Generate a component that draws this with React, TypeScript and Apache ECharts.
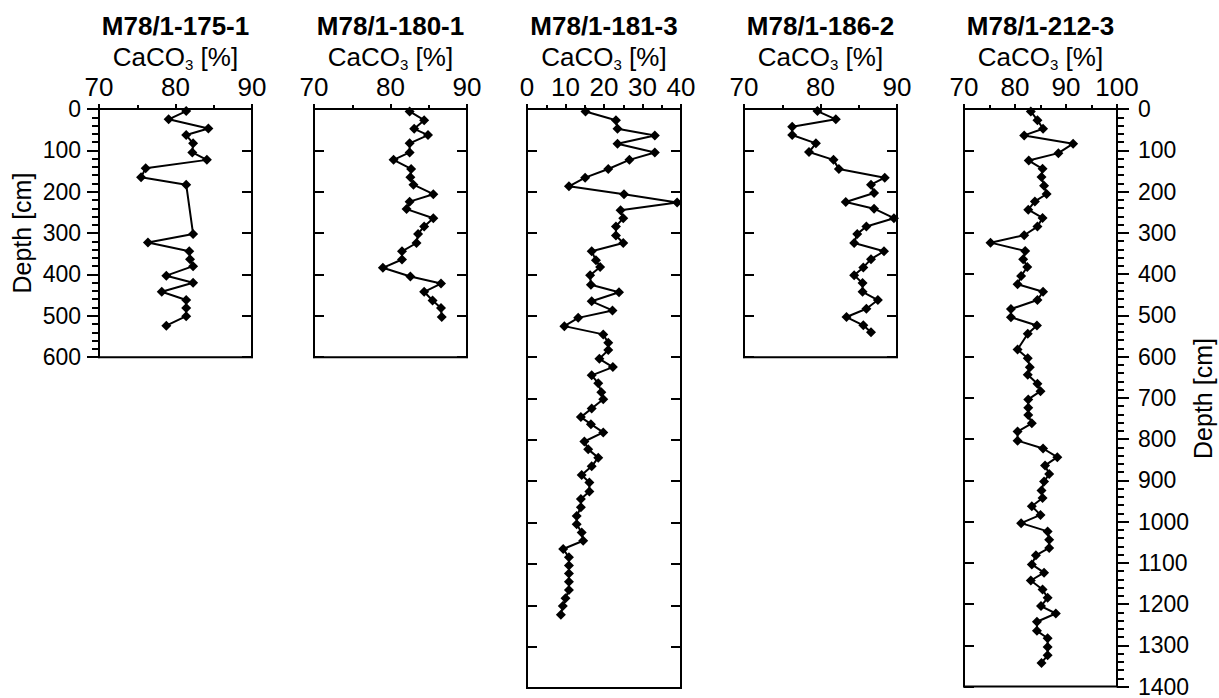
import React, { useEffect, useRef } from "react";
import * as echarts from "echarts";

// ---- data ----
const coreNames = ["M78/1-175-1", "M78/1-180-1", "M78/1-181-3", "M78/1-186-2", "M78/1-212-3"];

const depth1 = [5, 25, 47, 63, 83, 105, 123, 143, 165, 183, 302, 323, 344, 363, 380, 403, 420, 442, 462, 481, 501, 524];
const caco1 = [81.4, 79.1, 84.3, 81.4, 82.3, 82.2, 84.1, 76.1, 75.5, 81.4, 82.3, 76.4, 81.8, 81.9, 82.3, 78.8, 82.3, 78.2, 81.4, 81.4, 81.4, 78.8];

const depth2 = [6, 27, 48, 63, 83, 105, 123, 145, 165, 183, 206, 224, 242, 264, 284, 302, 324, 344, 364, 384, 405, 422, 442, 463, 481, 503];
const caco2 = [82.5, 84.4, 83.1, 84.9, 82.5, 82.5, 80.4, 82.7, 82.6, 83.0, 85.6, 82.5, 82.1, 85.6, 84.4, 83.6, 83.4, 81.5, 81.5, 79.0, 82.6, 86.6, 84.4, 85.5, 86.6, 86.7];

const depth3 = [6, 27, 48, 64, 84, 105, 123, 145, 166, 187, 206, 226, 245, 264, 284, 306, 324, 344, 366, 382, 402, 425, 443, 465, 487, 505, 525, 545, 565, 583, 604, 624, 644, 663, 685, 702, 724, 745, 762, 782, 804, 823, 843, 864, 885, 903, 925, 943, 963, 984, 1004, 1024, 1044, 1064, 1084, 1104, 1123, 1143, 1163, 1183, 1202, 1223];
const caco3 = [15.2, 23.1, 23.5, 33.2, 23.5, 33.2, 26.6, 21.1, 15.1, 10.9, 25.2, 39.0, 24.3, 25.0, 23.1, 23.1, 25.0, 16.8, 17.9, 19.0, 16.4, 16.6, 23.9, 16.8, 22.2, 13.3, 9.7, 19.8, 21.1, 21.1, 18.8, 22.3, 16.8, 18.5, 19.3, 19.8, 16.8, 14.0, 16.6, 19.8, 14.9, 15.9, 18.5, 16.8, 14.2, 16.2, 16.2, 14.0, 14.0, 12.9, 12.9, 14.2, 14.6, 9.4, 10.9, 10.9, 10.9, 10.9, 10.9, 10.0, 9.3, 8.8];

const depth4 = [5, 25, 43, 63, 83, 104, 123, 145, 166, 183, 203, 225, 241, 264, 284, 302, 324, 344, 363, 383, 402, 421, 442, 462, 483, 503, 523, 540];
const caco4 = [79.6, 82.0, 76.3, 76.3, 79.4, 78.5, 81.7, 82.4, 88.4, 86.6, 87.0, 83.3, 87.0, 89.6, 86.0, 84.8, 84.4, 88.3, 86.6, 85.6, 84.4, 85.5, 85.5, 87.5, 86.0, 83.4, 85.6, 86.6];

const depth5 = [6, 27, 48, 64, 84, 107, 125, 145, 165, 186, 206, 224, 244, 264, 285, 306, 324, 344, 364, 383, 405, 425, 443, 463, 485, 505, 525, 545, 583, 604, 626, 644, 666, 684, 704, 724, 742, 762, 782, 804, 823, 844, 864, 885, 903, 925, 943, 963, 984, 1004, 1024, 1044, 1064, 1082, 1104, 1124, 1143, 1165, 1185, 1205, 1223, 1243, 1265, 1283, 1304, 1324, 1343];
const caco5 = [83.1, 84.4, 85.5, 81.8, 91.4, 88.5, 82.7, 85.4, 85.2, 85.7, 86.2, 83.9, 82.6, 85.4, 84.4, 81.8, 75.2, 82.0, 81.6, 82.4, 81.2, 80.5, 85.5, 84.4, 79.2, 79.2, 84.3, 82.5, 80.5, 82.5, 82.9, 82.5, 84.4, 85.0, 82.6, 82.6, 82.6, 83.3, 80.5, 80.5, 85.5, 88.3, 85.9, 86.7, 85.7, 85.2, 85.4, 83.3, 85.0, 81.2, 86.4, 86.7, 86.7, 84.1, 83.3, 85.7, 83.1, 85.4, 86.4, 85.1, 88.0, 84.3, 84.3, 86.4, 86.4, 86.4, 85.2];

const xMins = [70, 70, 0, 70, 70];
const xMaxs = [90, 90, 40, 90, 100];
const depthMaxs = [600, 600, 1400, 600, 1400];
const depths = [depth1, depth2, depth3, depth4, depth5];
const values = [caco1, caco2, caco3, caco4, caco5];
const depthTitle = "Depth [cm]";

// ---- layout ----
const FONT = "Liberation Sans, Arial, Helvetica, sans-serif";
const TOP = 109;
const PX_PER_CM = 579 / 1400;
const lefts = [99, 314, 527, 744, 964];
const widths = [153, 153, 154, 153, 153];

export default function App() {
  const ref = useRef<HTMLDivElement>(null);
  useEffect(() => {
    if (!ref.current) return;
    const chart = echarts.init(ref.current, null, { renderer: "svg" });
    const black = "#000";
    const grids: any[] = [];
    const xAxes: any[] = [];
    const yAxes: any[] = [];
    const series: any[] = [];
    const graphics: any[] = [];

    for (let i = 0; i < 5; i++) {
      const h = depthMaxs[i] * PX_PER_CM;
      grids.push({
        left: lefts[i],
        top: TOP,
        width: widths[i],
        height: h,
        show: true,
        borderColor: black,
        borderWidth: 2,
        backgroundColor: "transparent",
      });
      xAxes.push({
        gridIndex: i,
        type: "value",
        position: "top",
        min: xMins[i],
        max: xMaxs[i],
        interval: 10,
        axisLine: { show: true, lineStyle: { color: black, width: 2 } },
        axisTick: { show: true, inside: false, length: 5, lineStyle: { color: black, width: 2 } },
        minorTick: { show: true, splitNumber: 2, length: 4, lineStyle: { color: black, width: 2 } },
        axisLabel: {
          show: true,
          fontSize: 26,
          color: black,
          fontFamily: FONT,
          margin: 9,
          formatter: (v: number) => String(v),
        },
        splitLine: { show: false },
        minorSplitLine: { show: false },
      });
      const labelSide = i === 0 ? "left" : i === 4 ? "right" : null;
      const mkY = (pos: string, labeled: boolean) => ({
        gridIndex: i,
        type: "value",
        inverse: true,
        min: 0,
        max: depthMaxs[i],
        interval: 100,
        position: pos,
        axisLine: { show: true, onZero: false, lineStyle: { color: black, width: 2 } },
        axisTick: {
          show: true,
          inside: !labeled,
          length: labeled ? 12 : 10,
          lineStyle: { color: black, width: 2 },
        },
        minorTick: { show: labeled, splitNumber: 5, length: 7, lineStyle: { color: black, width: 2 } },
        axisLabel: {
          show: labeled,
          fontSize: 23,
          color: black,
          fontFamily: FONT,
          margin: pos === "left" ? 18 : 21,
          formatter: (v: number) => String(v),
        },
        splitLine: { show: false },
        minorSplitLine: { show: false },
      });
      const primaryIdx = yAxes.length;
      if (labelSide === "left") {
        yAxes.push(mkY("left", true));
        yAxes.push(mkY("right", false));
      } else if (labelSide === "right") {
        yAxes.push(mkY("right", true));
        yAxes.push(mkY("left", false));
      } else {
        yAxes.push(mkY("left", false));
        yAxes.push(mkY("right", false));
      }
      series.push({
        type: "line",
        xAxisIndex: i,
        yAxisIndex: primaryIdx,
        data: depths[i].map((d, k) => [values[i][k], d]),
        symbol: "diamond",
        symbolSize: 10,
        showSymbol: true,
        itemStyle: { color: black },
        lineStyle: { color: black, width: 2 },
        z: 5,
      });
      const cx = lefts[i] + widths[i] / 2;
      graphics.push({
        type: "text",
        x: cx,
        y: 26,
        style: {
          text: coreNames[i],
          fontSize: 26,
          fontWeight: "bold",
          fontFamily: FONT,
          fill: black,
          textAlign: "center",
          textVerticalAlign: "middle",
        },
      });
      graphics.push({
        type: "text",
        x: cx,
        y: 57,
        style: {
          text: "{a|CaCO}{b|3}{a| [%]}",
          rich: {
            a: { fontSize: 26, fontFamily: FONT, fill: black },
            b: { fontSize: 15, fontFamily: FONT, fill: black, padding: [14, 0, 0, 0] },
          },
          textAlign: "center",
          textVerticalAlign: "middle",
        },
      });
    }

    graphics.push({
      type: "text",
      x: 22,
      y: TOP + (600 * PX_PER_CM) / 2,
      rotation: Math.PI / 2,
      style: {
        text: depthTitle,
        fontSize: 25,
        fontFamily: FONT,
        fill: black,
        textAlign: "center",
        textVerticalAlign: "middle",
      },
    });
    graphics.push({
      type: "text",
      x: 1203,
      y: TOP + (1400 * PX_PER_CM) / 2,
      rotation: Math.PI / 2,
      style: {
        text: depthTitle,
        fontSize: 25,
        fontFamily: FONT,
        fill: black,
        textAlign: "center",
        textVerticalAlign: "middle",
      },
    });

    chart.setOption({
      animation: false,
      backgroundColor: "#fff",
      grid: grids,
      xAxis: xAxes,
      yAxis: yAxes,
      series,
      graphic: graphics,
    });
    return () => chart.dispose();
  }, []);
  return (
    <div
      ref={ref}
      style={{ position: "fixed", left: 0, top: 0, width: 1219, height: 698, background: "#fff" }}
    />
  );
}
